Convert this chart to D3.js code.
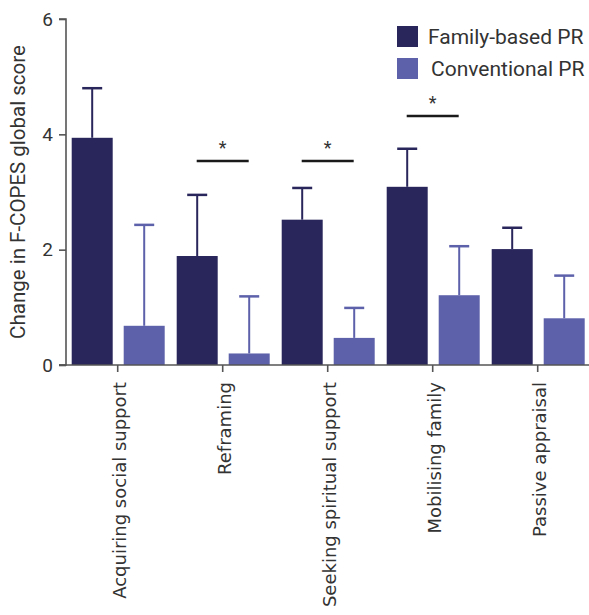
<!DOCTYPE html>
<html>
<head>
<meta charset="utf-8">
<script src="https://d3js.org/d3.v7.min.js"></script>
<style>
  body { margin: 0; background: #fff; }
  text { font-family: "Roboto", sans-serif; }
  text.xlabel { font-family: "DejaVu Sans", sans-serif; }
</style>
</head>
<body>
<div id="chart"></div>
<script>
var categories = ["Acquiring social support", "Reframing", "Seeking spiritual support", "Mobilising family", "Passive appraisal"];
var seriesNames = ["Family-based PR", "Conventional PR"];
var familyMean = [3.94, 1.89, 2.52, 3.09, 2.01];
var familyErr = [4.80, 2.95, 3.07, 3.75, 2.38];
var convMean = [0.68, 0.20, 0.47, 1.21, 0.81];
var convErr = [2.43, 1.19, 0.99, 2.06, 1.55];
var significant = [false, true, true, true, false];
var yTicks = [0, 2, 4, 6];

var colors = ["#29265b", "#5d61aa"];

var width = 589, height = 615;
var margin = {top: 19, right: 0, bottom: 250, left: 66};

var svg = d3.select("#chart").append("svg")
    .attr("width", width)
    .attr("height", height);

var x = d3.scaleBand()
    .domain(categories)
    .range([margin.left - 0.8, width + 1.2])
    .padding(0);

var y = d3.scaleLinear()
    .domain([0, 6])
    .range([365, margin.top]);

var rows = categories.map(function (c, i) {
  return [
    {cat: c, s: 0, mean: familyMean[i], err: familyErr[i]},
    {cat: c, s: 1, mean: convMean[i], err: convErr[i]}
  ];
});

var barW = 41;
function barX(d) {
  var c = x(d.cat) + x.bandwidth() / 2;
  return d.s === 0 ? c - 46 : c + 6;
}

var g = svg.append("g");

// error bars (drawn first so bars cover the stem)
var flat = [].concat.apply([], rows);
g.selectAll(".err")
  .data(flat)
  .enter()
  .append("line")
    .attr("x1", function (d) { return barX(d) + barW / 2; })
    .attr("x2", function (d) { return barX(d) + barW / 2; })
    .attr("y1", function (d) { return y(d.mean); })
    .attr("y2", function (d) { return y(d.err); })
    .attr("stroke", function (d) { return colors[d.s]; })
    .attr("stroke-width", 2);

g.selectAll(".cap")
  .data(flat)
  .enter()
  .append("line")
    .attr("x1", function (d) { return barX(d) + barW / 2 - 10; })
    .attr("x2", function (d) { return barX(d) + barW / 2 + 10; })
    .attr("y1", function (d) { return y(d.err); })
    .attr("y2", function (d) { return y(d.err); })
    .attr("stroke", function (d) { return colors[d.s]; })
    .attr("stroke-width", 2.5);

g.selectAll(".bar")
  .data(flat)
  .enter()
  .append("rect")
    .attr("x", barX)
    .attr("width", barW)
    .attr("y", function (d) { return y(d.mean); })
    .attr("height", function (d) { return y(0) - y(d.mean); })
    .attr("fill", function (d) { return colors[d.s]; });

// significance markers
var sig = categories.filter(function (c, i) { return significant[i]; });
var sigY = {"Reframing": 161, "Seeking spiritual support": 161, "Mobilising family": 116};
sig.forEach(function (c) {
  var cx = x(c) + x.bandwidth() / 2;
  svg.append("line")
    .attr("x1", cx - 26).attr("x2", cx + 26)
    .attr("y1", sigY[c]).attr("y2", sigY[c])
    .attr("stroke", "#1a1a1a")
    .attr("stroke-width", 2.5);
  svg.append("text")
    .attr("x", cx)
    .attr("y", sigY[c] - 7)
    .attr("text-anchor", "middle")
    .style("font-size", "18px")
    .style("fill", "#333")
    .text("*");
});

// axes
var yAxis = svg.append("g")
    .attr("transform", "translate(" + margin.left + ",0)")
    .call(d3.axisLeft(y).tickValues(yTicks).tickFormat(d3.format("d")).tickSize(7).tickPadding(6));

var xAxis = svg.append("g")
    .attr("transform", "translate(0," + y(0) + ")")
    .call(d3.axisBottom(x).tickSize(7).tickSizeOuter(0).tickFormat(""));

[yAxis, xAxis].forEach(function (a) {
  a.selectAll("path, line").attr("stroke", "#555").attr("stroke-width", 1.6);
});
yAxis.select(".domain").attr("d", "M-7," + y(6) + "H0V" + y(0) + "H-7");
xAxis.select(".domain").attr("d", "M" + (margin.left - 7) + ",0H" + width);

yAxis.selectAll("text")
    .attr("font-family", null)
    .attr("font-size", null)
    .style("font-size", "19px")
    .style("fill", "#333");

// rotated category labels
svg.selectAll(".xlabel")
  .data(categories)
  .enter()
  .append("text")
    .attr("class", "xlabel")
    .attr("transform", function (d) {
      return "translate(" + (x(d) + x.bandwidth() / 2 + 8) + ",382) rotate(-90)";
    })
    .attr("text-anchor", "end")
    .style("font-size", "18px")
    .style("fill", "#333")
    .text(function (d) { return d; });

// y axis title
svg.append("text")
    .attr("transform", "translate(25," + ((y(0) + y(6)) / 2) + ") rotate(-90)")
    .attr("text-anchor", "middle")
    .style("font-size", "20.5px")
    .style("fill", "#333")
    .text("Change in F-COPES global score");

// legend
var legend = svg.append("g").attr("transform", "translate(397,26)");
seriesNames.forEach(function (s, i) {
  legend.append("rect")
    .attr("x", 0).attr("y", i * 32)
    .attr("width", 21).attr("height", 21)
    .attr("fill", colors[i]);
  legend.append("text")
    .attr("x", 31 + i * 3).attr("y", i * 32 + 18)
    .style("font-size", "21px")
    .style("fill", "#333")
    .text(s);
});
</script>
</body>
</html>
